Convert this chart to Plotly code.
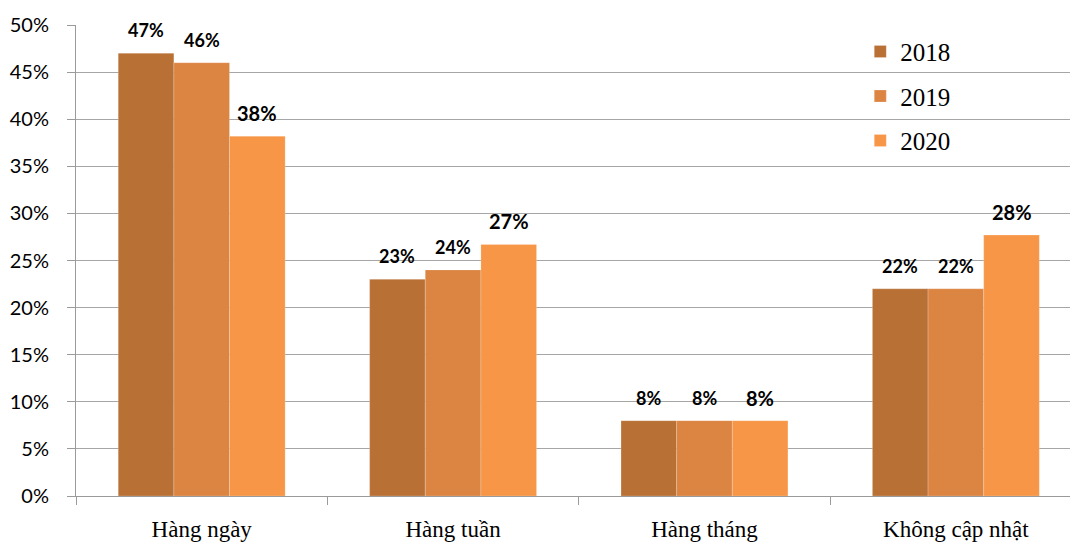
import plotly.graph_objects as go

categories = ["Hàng ngày", "Hàng tuần", "Hàng tháng", "Không cập nhật"]
years = ["2018", "2019", "2020"]
v2018 = [47, 23, 8, 22]
v2019 = [46, 24, 8, 22]
v2020 = [38.2, 26.7, 8, 27.7]
labels2018 = ["47%", "23%", "8%", "22%"]
labels2019 = ["46%", "24%", "8%", "22%"]
labels2020 = ["38%", "27%", "8%", "28%"]
y_ticks = [0, 5, 10, 15, 20, 25, 30, 35, 40, 45, 50]
y_ticklabels = [f"{t}%" for t in y_ticks]

colors = ["#B97034", "#DC8442", "#F79646"]
series = [v2018, v2019, v2020]
label_sets = [labels2018, labels2019, labels2020]
label_sizes = [18, 18, 20]

W, H = 1070, 548
ml, mt, mb, mr = 76, 25, 52, 0
x_range = [-0.5, 3.454]
bargap = 0.336

fig = go.Figure()
for i, (yr, vals) in enumerate(zip(years, series)):
    fig.add_trace(go.Bar(
        x=categories, y=vals, name=yr,
        marker=dict(color=colors[i], line=dict(color="rgba(255,255,255,0.35)", width=0.6)),
        legendgroup=yr,
        hoverinfo="skip",
    ))

# data labels
plot_w = W - ml - mr
cat_px = plot_w / (x_range[1] - x_range[0])
bar_px = cat_px * (1 - bargap) / 3
for i, labs in enumerate(label_sets):
    for c, v, t in zip(categories, series[i], labs):
        fig.add_annotation(
            x=c, y=v, xref="x", yref="y", text=f"<b>{t}</b>",
            showarrow=False, yanchor="middle", yshift=23,
            xshift=(i - 1) * bar_px,
            font=dict(family="Lato", size=label_sizes[i], color="#000000"),
        )

fig.update_layout(
    width=W, height=H,
    margin=dict(l=ml, r=mr, t=mt, b=mb, pad=0),
    paper_bgcolor="white", plot_bgcolor="white",
    barmode="group", bargap=bargap, bargroupgap=0,
    showlegend=True,
    legend=dict(
        x=0.789, y=0.992, xanchor="left", yanchor="top",
        font=dict(family="Liberation Serif", size=25, color="#000000"),
        bgcolor="rgba(0,0,0,0)", tracegroupgap=9,
        itemwidth=30,
    ),
    xaxis=dict(
        type="category", range=x_range,
        showgrid=False, showline=True, linecolor="#9a9a9a", linewidth=1,
        ticks="outside", tickson="boundaries", ticklen=8, tickcolor="#9a9a9a",
        tickfont=dict(family="Liberation Serif", size=23, color="#000000"),
        ticklabelstandoff=12,
    ),
    yaxis=dict(
        range=[0, 50], tickvals=y_ticks, ticktext=y_ticklabels,
        showgrid=True, gridcolor="#a6a6a6", gridwidth=1,
        showline=True, linecolor="#9a9a9a", linewidth=1,
        ticks="outside", ticklen=8, tickcolor="#9a9a9a",
        tickfont=dict(family="Lato", size=20, color="#000000"),
        ticklabelstandoff=14,
        zeroline=False,
    ),
)

fig.write_html("out.html")
